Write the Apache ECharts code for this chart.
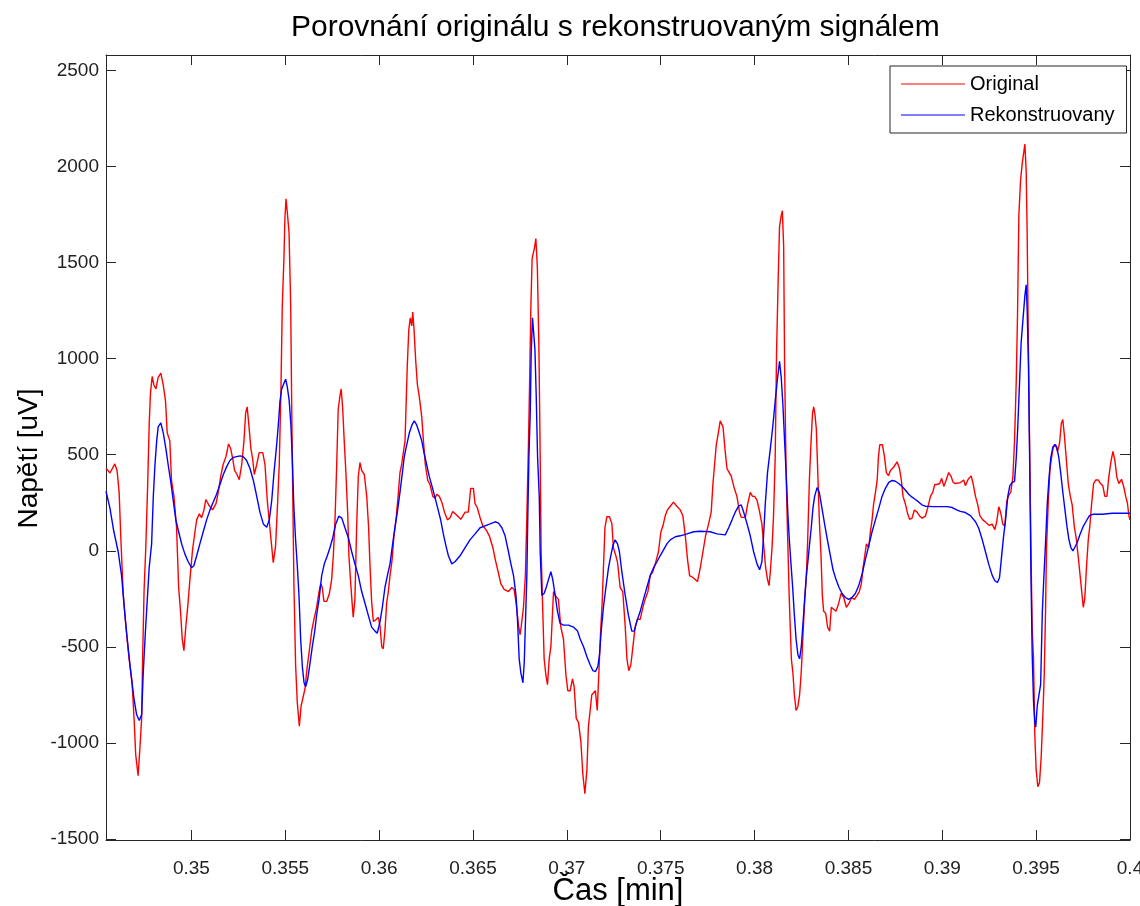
<!DOCTYPE html>
<html>
<head>
<meta charset="utf-8">
<script src="https://cdn.jsdelivr.net/npm/echarts@6/dist/echarts.min.js"></script>
<style>
html, body {margin: 0; padding: 0; background: #fff; overflow: hidden;}
#chart {width: 1140px; height: 906px;}
</style>
</head>
<body>
<div id="chart"></div>
<script>
// popisky os
var xTicks = [0.35, 0.355, 0.36, 0.365, 0.37, 0.375, 0.38, 0.385, 0.39, 0.395, 0.4];
var yTicks = [-1500, -1000, -500, 0, 500, 1000, 1500, 2000, 2500];

// [cas (min), napeti (uV)]
var original = [
    [0.34545,430],[0.34548,432],[0.34566,405],[0.34592,452],[0.34604,418],[0.34615,304],[0.34624,68],[0.34636,-212],[0.34651,-395],[0.34668,-562],
    [0.34684,-687],[0.34695,-883],[0.34703,-1058],[0.34716,-1170],[0.34725,-1037],[0.34735,-872],[0.34740,-562],[0.34748,-201],[0.34757,16],[0.34767,345],
    [0.34775,655],[0.34782,822],[0.34791,907],[0.34800,863],[0.34811,842],[0.34823,903],[0.34837,924],[0.34850,863],[0.34862,780],[0.34871,614],
    [0.34885,572],[0.34894,366],[0.34907,283],[0.34921,120],[0.34932,-191],[0.34942,-315],[0.34951,-458],[0.34960,-520],[0.34971,-385],[0.34981,-284],
    [0.34992,-150],[0.35006,5],[0.35019,99],[0.35028,161],[0.35042,192],[0.35054,172],[0.35067,213],[0.35077,267],[0.35095,234],[0.35113,213],
    [0.35131,245],[0.35143,304],[0.35156,387],[0.35169,449],[0.35184,490],[0.35198,556],[0.35209,532],[0.35220,480],[0.35230,418],[0.35243,397],
    [0.35255,370],[0.35268,449],[0.35280,572],[0.35289,718],[0.35297,749],[0.35306,655],[0.35317,532],[0.35326,480],[0.35335,397],[0.35348,449],
    [0.35361,511],[0.35380,511],[0.35392,449],[0.35404,263],[0.35418,120],[0.35436,-62],[0.35448,20],[0.35457,200],[0.35468,449],[0.35477,842],
    [0.35484,1274],[0.35493,1524],[0.35498,1728],[0.35504,1832],[0.35511,1760],[0.35520,1656],[0.35529,1274],[0.35534,780],[0.35539,366],[0.35546,-171],
    [0.35555,-593],[0.35564,-790],[0.35575,-913],[0.35584,-810],[0.35593,-770],[0.35605,-718],[0.35617,-603],[0.35628,-520],[0.35641,-416],[0.35653,-356],
    [0.35667,-294],[0.35680,-212],[0.35689,-171],[0.35697,-191],[0.35706,-263],[0.35721,-263],[0.35735,-222],[0.35747,-150],[0.35756,-26],[0.35765,161],
    [0.35774,449],[0.35782,738],[0.35792,811],[0.35798,842],[0.35806,738],[0.35814,572],[0.35823,407],[0.35833,182],[0.35839,-26],[0.35848,-160],
    [0.35857,-284],[0.35862,-346],[0.35871,-253],[0.35880,120],[0.35889,387],[0.35898,459],[0.35907,418],[0.35921,397],[0.35934,283],[0.35944,120],
    [0.35951,-68],[0.35960,-263],[0.35969,-367],[0.35983,-359],[0.35996,-346],[0.36005,-395],[0.36014,-499],[0.36022,-510],[0.36031,-416],[0.36040,-274],
    [0.36049,-212],[0.36058,-129],[0.36069,-47],[0.36079,78],[0.36090,161],[0.36101,283],[0.36111,407],[0.36120,449],[0.36129,511],[0.36138,572],
    [0.36143,738],[0.36150,965],[0.36158,1150],[0.36166,1212],[0.36174,1171],[0.36179,1243],[0.36186,1150],[0.36195,986],[0.36204,863],[0.36214,801],
    [0.36227,697],[0.36236,572],[0.36246,449],[0.36259,366],[0.36271,345],[0.36286,283],[0.36298,274],[0.36307,294],[0.36321,283],[0.36334,253],
    [0.36348,201],[0.36364,161],[0.36378,172],[0.36392,205],[0.36414,185],[0.36435,164],[0.36458,201],[0.36475,201],[0.36488,325],[0.36502,325],
    [0.36511,245],[0.36523,224],[0.36538,172],[0.36552,130],[0.36570,109],[0.36587,78],[0.36606,16],[0.36619,-47],[0.36634,-109],[0.36648,-171],
    [0.36666,-201],[0.36689,-212],[0.36707,-191],[0.36719,-201],[0.36730,-274],[0.36742,-385],[0.36751,-437],[0.36758,-385],[0.36769,-294],[0.36779,-129],
    [0.36787,180],[0.36795,532],[0.36801,842],[0.36808,1254],[0.36815,1522],[0.36827,1574],[0.36835,1625],[0.36843,1470],[0.36851,1068],[0.36858,490],
    [0.36863,-5],[0.36870,-253],[0.36879,-562],[0.36888,-645],[0.36897,-697],[0.36906,-562],[0.36915,-499],[0.36922,-356],[0.36929,-212],[0.36938,-232],
    [0.36947,-222],[0.36955,-253],[0.36968,-397],[0.36982,-459],[0.36995,-645],[0.37005,-728],[0.37018,-728],[0.37030,-666],[0.37039,-707],[0.37050,-872],
    [0.37062,-893],[0.37075,-996],[0.37085,-1160],[0.37096,-1264],[0.37107,-1139],[0.37115,-913],[0.37124,-831],[0.37133,-749],[0.37142,-759],[0.37152,-728],
    [0.37162,-831],[0.37171,-624],[0.37179,-437],[0.37188,-274],[0.37195,-88],[0.37203,120],[0.37213,177],[0.37227,177],[0.37240,140],[0.37248,16],
    [0.37261,-26],[0.37270,-60],[0.37284,-191],[0.37298,-212],[0.37311,-395],[0.37320,-562],[0.37330,-624],[0.37341,-593],[0.37352,-499],[0.37364,-395],
    [0.37376,-356],[0.37391,-356],[0.37405,-294],[0.37417,-253],[0.37432,-212],[0.37444,-129],[0.37458,-109],[0.37471,-68],[0.37488,-5],[0.37501,99],
    [0.37512,130],[0.37524,182],[0.37536,213],[0.37551,232],[0.37568,253],[0.37586,232],[0.37604,213],[0.37618,182],[0.37631,78],[0.37643,-47],
    [0.37654,-129],[0.37672,-139],[0.37696,-160],[0.37711,-88],[0.37725,-5],[0.37739,78],[0.37755,140],[0.37769,201],[0.37778,345],[0.37787,449],
    [0.37796,551],[0.37807,614],[0.37817,676],[0.37824,686],[0.37832,645],[0.37842,532],[0.37853,428],[0.37865,407],[0.37876,387],[0.37892,325],
    [0.37906,283],[0.37920,201],[0.37929,174],[0.37951,174],[0.37963,242],[0.37977,304],[0.37989,283],[0.38000,283],[0.38013,263],[0.38025,212],
    [0.38039,140],[0.38048,36],[0.38059,-88],[0.38069,-150],[0.38077,-181],[0.38084,-109],[0.38093,16],[0.38101,180],[0.38110,490],[0.38117,1027],
    [0.38126,1419],[0.38133,1687],[0.38141,1739],[0.38148,1770],[0.38155,1584],[0.38160,965],[0.38168,407],[0.38176,78],[0.38185,-253],[0.38196,-562],
    [0.38205,-645],[0.38212,-749],[0.38221,-831],[0.38231,-810],[0.38240,-749],[0.38249,-624],[0.38258,-437],[0.38267,-253],[0.38276,-129],[0.38283,57],
    [0.38292,366],[0.38301,572],[0.38309,718],[0.38315,749],[0.38322,707],[0.38329,634],[0.38336,428],[0.38345,161],[0.38354,-26],[0.38361,-232],
    [0.38368,-315],[0.38379,-325],[0.38389,-397],[0.38400,-418],[0.38409,-294],[0.38421,-304],[0.38434,-315],[0.38448,-274],[0.38461,-222],[0.38475,-243],
    [0.38489,-294],[0.38503,-274],[0.38517,-243],[0.38532,-253],[0.38546,-232],[0.38558,-212],[0.38569,-171],[0.38578,-88],[0.38587,-26],[0.38596,36],
    [0.38608,16],[0.38617,99],[0.38626,161],[0.38634,242],[0.38644,304],[0.38653,366],[0.38660,490],[0.38667,552],[0.38681,552],[0.38692,490],
    [0.38702,407],[0.38713,391],[0.38724,418],[0.38738,432],[0.38750,449],[0.38759,463],[0.38772,428],[0.38782,366],[0.38791,283],[0.38804,242],
    [0.38816,191],[0.38826,164],[0.38839,170],[0.38851,212],[0.38866,201],[0.38880,180],[0.38893,170],[0.38910,180],[0.38922,222],[0.38937,283],
    [0.38949,304],[0.38960,345],[0.38972,345],[0.38986,350],[0.38997,377],[0.39008,335],[0.39020,366],[0.39034,407],[0.39047,387],[0.39058,356],
    [0.39070,350],[0.39097,355],[0.39114,368],[0.39123,339],[0.39138,372],[0.39154,390],[0.39164,350],[0.39177,283],[0.39189,239],[0.39200,183],
    [0.39216,161],[0.39234,146],[0.39251,132],[0.39266,139],[0.39280,110],[0.39290,151],[0.39301,229],[0.39312,195],[0.39322,139],[0.39333,128],
    [0.39344,261],[0.39354,288],[0.39365,306],[0.39376,383],[0.39385,572],[0.39394,884],[0.39401,1239],[0.39408,1750],[0.39417,1928],[0.39426,2017],
    [0.39434,2073],[0.39440,2117],[0.39447,1973],[0.39452,1661],[0.39459,1040],[0.39466,484],[0.39474,-94],[0.39479,-406],[0.39486,-562],[0.39493,-961],
    [0.39500,-1139],[0.39509,-1228],[0.39518,-1206],[0.39527,-1071],[0.39536,-850],[0.39543,-650],[0.39550,-317],[0.39555,5],[0.39564,239],[0.39573,417],
    [0.39582,484],[0.39591,539],[0.39603,551],[0.39614,517],[0.39625,562],[0.39634,661],[0.39642,683],[0.39651,595],[0.39662,461],[0.39671,350],
    [0.39682,283],[0.39692,239],[0.39703,128],[0.39714,62],[0.39724,-28],[0.39733,-117],[0.39742,-205],[0.39751,-294],[0.39759,-250],[0.39769,-72],
    [0.39778,61],[0.39786,128],[0.39795,239],[0.39806,350],[0.39817,368],[0.39831,368],[0.39843,350],[0.39855,339],[0.39866,283],[0.39877,283],
    [0.39887,383],[0.39898,461],[0.39909,517],[0.39919,473],[0.39930,383],[0.39941,350],[0.39955,372],[0.39968,328],[0.39977,283],[0.39986,250],
    [0.39994,183],[0.40000,160]
];

var rekonstruovany = [
    [0.34545,310],[0.34548,304],[0.34566,222],[0.34587,99],[0.34610,-5],[0.34628,-129],[0.34642,-294],[0.34658,-458],[0.34676,-624],[0.34694,-769],
    [0.34708,-852],[0.34722,-883],[0.34735,-852],[0.34743,-645],[0.34754,-437],[0.34765,-253],[0.34775,-88],[0.34788,36],[0.34797,283],[0.34806,449],
    [0.34815,572],[0.34823,645],[0.34837,666],[0.34850,614],[0.34864,532],[0.34876,449],[0.34889,366],[0.34903,263],[0.34917,161],[0.34932,99],
    [0.34948,36],[0.34965,-16],[0.34983,-57],[0.35001,-88],[0.35013,-78],[0.35028,-26],[0.35045,36],[0.35063,99],[0.35081,161],[0.35099,213],
    [0.35116,253],[0.35134,294],[0.35152,345],[0.35170,397],[0.35188,438],[0.35205,470],[0.35223,486],[0.35241,490],[0.35259,494],[0.35276,490],
    [0.35294,470],[0.35312,428],[0.35330,366],[0.35348,283],[0.35365,201],[0.35383,140],[0.35401,123],[0.35415,161],[0.35428,263],[0.35440,407],
    [0.35454,550],[0.35463,655],[0.35472,780],[0.35481,842],[0.35493,872],[0.35502,893],[0.35511,852],[0.35521,780],[0.35530,655],[0.35537,490],
    [0.35546,222],[0.35555,57],[0.35564,-78],[0.35573,-232],[0.35582,-459],[0.35591,-603],[0.35600,-687],[0.35609,-707],[0.35620,-666],[0.35632,-583],
    [0.35644,-499],[0.35657,-418],[0.35667,-335],[0.35680,-253],[0.35694,-129],[0.35708,-68],[0.35724,-26],[0.35738,16],[0.35753,68],[0.35769,140],
    [0.35785,180],[0.35801,170],[0.35818,120],[0.35836,68],[0.35854,-5],[0.35871,-68],[0.35889,-129],[0.35907,-212],[0.35925,-274],[0.35942,-335],
    [0.35960,-397],[0.35978,-418],[0.35990,-429],[0.36005,-367],[0.36017,-294],[0.36031,-191],[0.36044,-129],[0.36058,-68],[0.36072,36],[0.36084,120],
    [0.36097,201],[0.36111,304],[0.36124,407],[0.36134,490],[0.36147,551],[0.36161,614],[0.36175,655],[0.36187,676],[0.36200,655],[0.36214,614],
    [0.36227,572],[0.36239,511],[0.36253,449],[0.36267,387],[0.36282,335],[0.36296,283],[0.36312,222],[0.36328,160],[0.36342,88],[0.36356,26],
    [0.36369,-26],[0.36387,-68],[0.36404,-57],[0.36431,-26],[0.36458,16],[0.36484,57],[0.36511,88],[0.36538,120],[0.36564,130],[0.36591,140],
    [0.36618,151],[0.36636,144],[0.36654,120],[0.36671,78],[0.36689,-5],[0.36702,-68],[0.36716,-129],[0.36729,-232],[0.36737,-356],[0.36746,-562],
    [0.36755,-635],[0.36766,-687],[0.36773,-583],[0.36780,-356],[0.36787,-129],[0.36792,180],[0.36798,490],[0.36805,718],[0.36810,1027],[0.36817,1212],
    [0.36822,1150],[0.36830,1048],[0.36837,801],[0.36844,490],[0.36853,283],[0.36858,-5],[0.36867,-232],[0.36879,-222],[0.36890,-191],[0.36902,-150],
    [0.36915,-109],[0.36925,-150],[0.36938,-232],[0.36950,-315],[0.36964,-377],[0.36982,-387],[0.37009,-387],[0.37035,-397],[0.37057,-418],[0.37071,-459],
    [0.37089,-499],[0.37107,-551],[0.37124,-593],[0.37139,-624],[0.37152,-629],[0.37165,-603],[0.37174,-541],[0.37183,-418],[0.37195,-294],[0.37208,-191],
    [0.37222,-88],[0.37234,-26],[0.37245,26],[0.37257,57],[0.37270,36],[0.37280,-5],[0.37293,-109],[0.37311,-232],[0.37328,-335],[0.37346,-418],
    [0.37359,-418],[0.37373,-367],[0.37391,-315],[0.37408,-253],[0.37426,-191],[0.37444,-129],[0.37462,-88],[0.37480,-57],[0.37497,-26],[0.37515,5],
    [0.37533,36],[0.37551,57],[0.37578,73],[0.37604,78],[0.37640,88],[0.37676,99],[0.37711,102],[0.37764,99],[0.37800,88],[0.37844,83],
    [0.37862,120],[0.37880,161],[0.37897,201],[0.37915,232],[0.37929,239],[0.37942,201],[0.37960,140],[0.37977,78],[0.37995,-5],[0.38013,-68],
    [0.38027,-99],[0.38039,-57],[0.38048,78],[0.38057,242],[0.38069,407],[0.38084,532],[0.38098,655],[0.38110,780],[0.38123,903],[0.38133,986],
    [0.38142,903],[0.38151,759],[0.38160,572],[0.38169,387],[0.38177,200],[0.38185,60],[0.38194,-68],[0.38203,-191],[0.38212,-335],[0.38221,-459],
    [0.38231,-541],[0.38240,-562],[0.38249,-499],[0.38258,-377],[0.38267,-253],[0.38276,-129],[0.38285,-47],[0.38293,36],[0.38302,120],[0.38311,222],
    [0.38320,283],[0.38333,329],[0.38345,304],[0.38359,222],[0.38373,140],[0.38388,57],[0.38404,-26],[0.38418,-99],[0.38434,-150],[0.38450,-191],
    [0.38466,-222],[0.38484,-243],[0.38501,-253],[0.38519,-243],[0.38537,-222],[0.38555,-181],[0.38573,-120],[0.38590,-47],[0.38608,26],[0.38626,99],
    [0.38644,161],[0.38662,222],[0.38679,283],[0.38697,325],[0.38715,356],[0.38733,366],[0.38750,362],[0.38768,350],[0.38786,335],[0.38804,315],
    [0.38821,294],[0.38839,279],[0.38857,267],[0.38875,253],[0.38893,238],[0.38910,232],[0.38955,230],[0.39026,230],[0.39053,225],[0.39079,212],
    [0.39097,205],[0.39123,199],[0.39150,183],[0.39177,151],[0.39194,117],[0.39212,61],[0.39230,-5],[0.39248,-72],[0.39266,-128],[0.39280,-156],
    [0.39294,-165],[0.39305,-139],[0.39314,-50],[0.39325,61],[0.39337,161],[0.39349,283],[0.39360,339],[0.39372,355],[0.39385,361],[0.39394,484],
    [0.39402,640],[0.39411,861],[0.39420,1083],[0.39431,1217],[0.39440,1328],[0.39447,1384],[0.39452,1261],[0.39459,973],[0.39465,506],[0.39472,-94],
    [0.39479,-539],[0.39486,-783],[0.39493,-895],[0.39498,-917],[0.39506,-806],[0.39515,-806],[0.39524,-695],[0.39533,-317],[0.39541,-139],[0.39550,39],
    [0.39559,239],[0.39568,372],[0.39578,484],[0.39589,539],[0.39600,554],[0.39610,539],[0.39621,484],[0.39632,395],[0.39642,306],[0.39653,217],
    [0.39664,128],[0.39674,61],[0.39685,17],[0.39696,-1],[0.39706,5],[0.39719,43],[0.39733,83],[0.39749,123],[0.39767,155],[0.39784,183],
    [0.39802,190],[0.39852,190],[0.39905,195],[0.39958,195],[0.40000,195]
];

var font = 'Liberation Sans, Arial, sans-serif';
var axisColor = '#262626';

function initChart() {
    var myChart = echarts.init(document.getElementById('chart'));
    var tickStyle = {show: true, inside: true, length: 10, lineStyle: {color: axisColor, width: 1}};
    var option = {
        backgroundColor: '#fff',
        animation: false,
        textStyle: {fontFamily: font},
        title: {
            text: 'Porovnání originálu s rekonstruovaným signálem',
            left: 291, top: 13, padding: 0,
            textStyle: {fontFamily: font, fontSize: 30, fontWeight: 'normal', color: '#000'}
        },
        legend: {
            left: 890, top: 66,
            orient: 'vertical',
            backgroundColor: '#fff',
            borderColor: axisColor, borderWidth: 1, borderRadius: 0,
            padding: [8, 12, 8, 11],
            icon: 'rect',
            itemWidth: 64, itemHeight: 1, itemGap: 11,
            textStyle: {fontFamily: font, fontSize: 20, lineHeight: 20, color: '#000'},
            data: ['Original', 'Rekonstruovany']
        },
        grid: {left: 106, right: 10, top: 55, bottom: 66, containLabel: false, outerBoundsMode: 'none'},
        xAxis: [
            {
                type: 'value', min: 0.34545, max: 0.4, position: 'bottom',
                name: 'Čas [min]', nameLocation: 'middle', nameGap: 36, nameMoveOverlap: false,
                nameTextStyle: {fontFamily: font, fontSize: 31, color: '#000'},
                axisLine: {show: true, onZero: false, lineStyle: {color: axisColor, width: 1}},
                axisTick: Object.assign({customValues: xTicks}, tickStyle),
                axisLabel: {
                    customValues: xTicks, margin: 19, fontSize: 19, color: '#222', fontFamily: font,
                    formatter: function (v) { return String(parseFloat(v.toFixed(3))); }
                },
                splitLine: {show: false}
            },
            {
                type: 'value', min: 0.34545, max: 0.4, position: 'top',
                axisLine: {show: true, onZero: false, lineStyle: {color: axisColor, width: 1}},
                axisTick: Object.assign({customValues: xTicks}, tickStyle),
                axisLabel: {show: false},
                splitLine: {show: false}
            }
        ],
        yAxis: [
            {
                type: 'value', min: -1505, max: 2580, position: 'left',
                name: 'Napětí [uV]', nameLocation: 'middle', nameGap: 63, nameMoveOverlap: false,
                nameTextStyle: {fontFamily: font, fontSize: 28, color: '#000', padding: [0, 22, 0, 0]},
                axisLine: {show: true, onZero: false, lineStyle: {color: axisColor, width: 1}},
                axisTick: Object.assign({customValues: yTicks}, tickStyle),
                axisLabel: {
                    customValues: yTicks, margin: 7, fontSize: 19, color: '#222', fontFamily: font,
                    formatter: function (v) { return String(v); }
                },
                splitLine: {show: false}
            },
            {
                type: 'value', min: -1505, max: 2580, position: 'right',
                axisLine: {show: true, onZero: false, lineStyle: {color: axisColor, width: 1}},
                axisTick: Object.assign({customValues: yTicks}, tickStyle),
                axisLabel: {show: false},
                splitLine: {show: false}
            }
        ],
        series: [
            {
                name: 'Original', type: 'line', xAxisIndex: 0, yAxisIndex: 0,
                symbol: 'none', smooth: false,
                lineStyle: {color: '#ff0000', width: 1.4},
                itemStyle: {color: '#ff0000'},
                data: original
            },
            {
                name: 'Rekonstruovany', type: 'line', xAxisIndex: 0, yAxisIndex: 0,
                symbol: 'none', smooth: false,
                lineStyle: {color: '#0000ff', width: 1.4},
                itemStyle: {color: '#0000ff'},
                data: rekonstruovany
            }
        ]
    };
    myChart.setOption(option);
}

initChart();
</script>
</body>
</html>
